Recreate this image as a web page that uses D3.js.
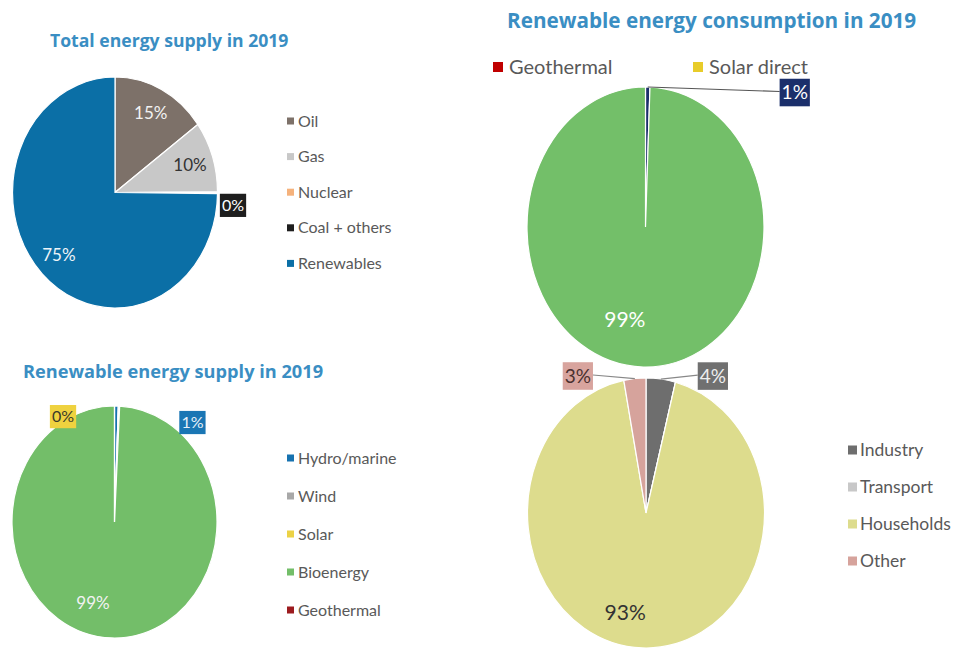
<!DOCTYPE html>
<html>
<head>
<meta charset="utf-8">
<script src="https://cdn.jsdelivr.net/npm/d3@7"></script>
<style>
  html, body { margin: 0; padding: 0; background: #fff; }
  svg { display: block; }
</style>
</head>
<body>
<div id="chart"></div>
<script>
// ---- data (percent shares) ----
const supplyCats = ["Oil", "Gas", "Nuclear", "Coal + others", "Renewables"];
const supplyValues = [15, 10, 0, 0.2, 75];

const renewSupplyCats = ["Hydro/marine", "Wind", "Solar", "Bioenergy", "Geothermal"];
const renewSupplyValues = [0.6, 0, 0.2, 99, 0];

// only the first two legend entries are visible in the source
const consCats = ["Geothermal", "Solar direct", "Other renewables", "Bioenergy"];
const consValues = [0, 0, 0.6, 99];

const sectorCats = ["Industry", "Transport", "Households", "Other"];
const sectorValues = [4, 0, 93, 3];

const titles = [
    "Total energy supply in 2019",
    "Renewable energy consumption in 2019",
    "Renewable energy supply in 2019"
];

const W = 953, H = 652;
const FONT = "Lato, 'Liberation Sans', sans-serif";
const TITLE_FONT = "'Open Sans', 'DejaVu Sans', sans-serif";
const TITLE_COLOR = "#3a8ec3";
const LEGEND_COLOR = "#595959";

const svg = d3.select("#chart").append("svg")
    .attr("width", W)
    .attr("height", H);

const fmt = v => Math.round(v) + "%";

function drawTitle(text, x, y, size) {
    svg.append("text")
        .attr("x", x)
        .attr("y", y)
        .attr("font-family", TITLE_FONT)
        .attr("font-weight", 700)
        .attr("font-size", size)
        .attr("fill", TITLE_COLOR)
        .text(text);
}

function drawLegend(cfg) {
    let items = cfg.show.map(i => ({name: cfg.cats[i], color: cfg.colors[i]}));
    let g = svg.append("g").attr("class", "legend");
    let item = g.selectAll(".item")
        .data(items)
        .join("g")
        .attr("class", "item")
        .attr("transform", (d, i) => cfg.horizontal
            ? 'translate(' + [cfg.x + i * cfg.step, cfg.y] + ')'
            : 'translate(' + [cfg.x, cfg.y + i * cfg.step] + ')');

    item.append("rect")
        .attr("x", 0)
        .attr("y", -cfg.sw / 2)
        .attr("width", cfg.sw)
        .attr("height", cfg.sw)
        .attr("fill", d => d.color);

    item.append("text")
        .attr("x", cfg.sw + cfg.gap)
        .attr("dy", "0.35em")
        .attr("font-family", FONT)
        .attr("font-size", cfg.fontSize)
        .attr("fill", LEGEND_COLOR)
        .text(d => d.name);
}

function drawPie(cfg) {
    let data = cfg.cats.map((c, i) => ({name: c, value: cfg.values[i], color: cfg.colors[i]}));
    let pie = d3.pie().sort(null).value(d => d.value);
    let arcs = pie(data);
    let arc = d3.arc().innerRadius(0).outerRadius(cfg.rx);

    let g = svg.append("g").attr("class", "pie");
    g.append("g")
        .attr("transform", 'translate(' + [cfg.cx, cfg.cy] + ') scale(1,' + (cfg.ry / cfg.rx) + ')')
        .selectAll("path")
        .data(arcs)
        .join("path")
        .attr("d", arc)
        .attr("fill", d => d.data.color)
        .attr("stroke", "#fff")
        .attr("stroke-width", 1.2)
        .attr("vector-effect", "non-scaling-stroke");

    // point on the (elliptical) pie at angle a and radius fraction f
    let pt = (a, f) => [cfg.cx + Math.sin(a) * cfg.rx * f, cfg.cy - Math.cos(a) * cfg.ry * f];

    cfg.labels.forEach(l => {
        let d = arcs[l.i];
        let mid = (d.startAngle + d.endAngle) / 2;
        let txt = fmt(d.data.value);

        if (l.type === "in") {
            let p = pt(mid, l.frac);
            g.append("text")
                .attr("x", p[0] + l.dx)
                .attr("y", p[1] + l.dy)
                .attr("text-anchor", "middle")
                .attr("dy", "0.35em")
                .attr("font-family", FONT)
                .attr("font-size", l.fontSize)
                .attr("fill", l.color)
                .text(txt);
        } else {
            let a = pt(mid, 1);
            let c = [a[0] + l.dx, a[1] + l.dy];
            let lg = g.append("g");
            let rect = lg.append("rect").attr("fill", l.fill);
            let t = lg.append("text")
                .attr("x", c[0])
                .attr("y", c[1])
                .attr("text-anchor", "middle")
                .attr("dy", "0.35em")
                .attr("font-family", FONT)
                .attr("font-size", l.fontSize)
                .attr("fill", l.color)
                .text(txt);
            let bb = t.node().getBBox();
            let bw = bb.width + 4, bh = l.fontSize * 1.45;
            rect.attr("x", c[0] - bw / 2)
                .attr("y", c[1] - bh / 2)
                .attr("width", bw)
                .attr("height", bh);
            if (l.leader) {
                let ex = l.dx > 0 ? c[0] - bw / 2 : c[0] + bw / 2;
                lg.insert("line", "rect")
                    .attr("x1", a[0]).attr("y1", a[1])
                    .attr("x2", ex).attr("y2", c[1] - 1)
                    .attr("stroke", l.leaderColor)
                    .attr("stroke-width", 1.2);
            }
        }
    });
}

// ---- Total energy supply ----
const supplyColors = ["#7d7169", "#c8c8c8", "#f5b27c", "#1e1e1e", "#0b6fa6"];
drawTitle(titles[0], 50, 47, 17.6);
drawPie({
    cats: supplyCats, values: supplyValues, colors: supplyColors,
    cx: 115, cy: 192.5, rx: 102.5, ry: 115.5,
    labels: [
        {i: 0, type: "in", frac: 0.77, dx: 0, dy: 0, fontSize: 17, color: "#f2f2f2"},
        {i: 1, type: "in", frac: 0.77, dx: 0, dy: 0, fontSize: 17, color: "#333"},
        {i: 3, type: "box", dx: 15.5, dy: 12.5, fontSize: 16, fill: "#1e1e1e", color: "#fff"},
        {i: 4, type: "in", frac: 0.77, dx: 0, dy: 0, fontSize: 17, color: "#eef4f8"}
    ]
});
drawLegend({cats: supplyCats, colors: supplyColors, show: [0, 1, 2, 3, 4],
    x: 287, y: 121, step: 35.6, sw: 7, gap: 4, fontSize: 16});

// ---- Renewable energy supply ----
const renewSupplyColors = ["#1672b0", "#a8a8a8", "#ecd245", "#73be69", "#9c1b1f"];
drawTitle(titles[2], 23, 378, 18.2);
drawPie({
    cats: renewSupplyCats, values: renewSupplyValues, colors: renewSupplyColors,
    cx: 114.5, cy: 522, rx: 102.5, ry: 116,
    labels: [
        {i: 0, type: "box", dx: 76, dy: 16.5, fontSize: 16, fill: "#1a76b4", color: "#e8f0f8"},
        {i: 2, type: "box", dx: -56, dy: 10.5, fontSize: 16, fill: "#efd23f", color: "#3a3a2a"},
        {i: 3, type: "in", frac: 0.75, dx: -19.6, dy: -6, fontSize: 17, color: "#f2f2f2"}
    ]
});
drawLegend({cats: renewSupplyCats, colors: renewSupplyColors, show: [0, 1, 2, 3, 4],
    x: 287, y: 458, step: 38, sw: 7, gap: 4, fontSize: 16});

// ---- Renewable energy consumption ----
const consColors = ["#c00000", "#e8cc2a", "#1b2f6b", "#73bf69"];
drawTitle(titles[1], 507, 28, 20.7);
drawPie({
    cats: consCats, values: consValues, colors: consColors,
    cx: 645.5, cy: 227, rx: 118.5, ry: 140,
    labels: [
        {i: 2, type: "box", dx: 147, dy: 5.5, fontSize: 19, fill: "#1b2f6b", color: "#fff",
            leader: true, leaderColor: "#555"},
        {i: 3, type: "in", frac: 0.75, dx: -19, dy: -12, fontSize: 21, color: "#fff"}
    ]
});
drawLegend({cats: consCats, colors: consColors, show: [0, 1], horizontal: true,
    x: 493, y: 67, step: 200, sw: 10, gap: 6, fontSize: 20});

// ---- Consumption by sector ----
const sectorColors = ["#6e6e6e", "#c8c8c8", "#dddc8d", "#d6a39c"];
drawPie({
    cats: sectorCats, values: sectorValues, colors: sectorColors,
    cx: 646, cy: 513, rx: 118.5, ry: 135,
    labels: [
        {i: 0, type: "box", dx: 52, dy: -3, fontSize: 19, fill: "#707070", color: "#eee",
            leader: true, leaderColor: "#888"},
        {i: 3, type: "box", dx: -57, dy: -2.6, fontSize: 19, fill: "#d8a49e", color: "#4a3030",
            leader: true, leaderColor: "#888"},
        {i: 2, type: "in", frac: 0.75, dx: -18, dy: -2, fontSize: 21, color: "#333"}
    ]
});
drawLegend({cats: sectorCats, colors: sectorColors, show: [0, 1, 2, 3],
    x: 848, y: 450, step: 37, sw: 9, gap: 3, fontSize: 17.5});
</script>
</body>
</html>
